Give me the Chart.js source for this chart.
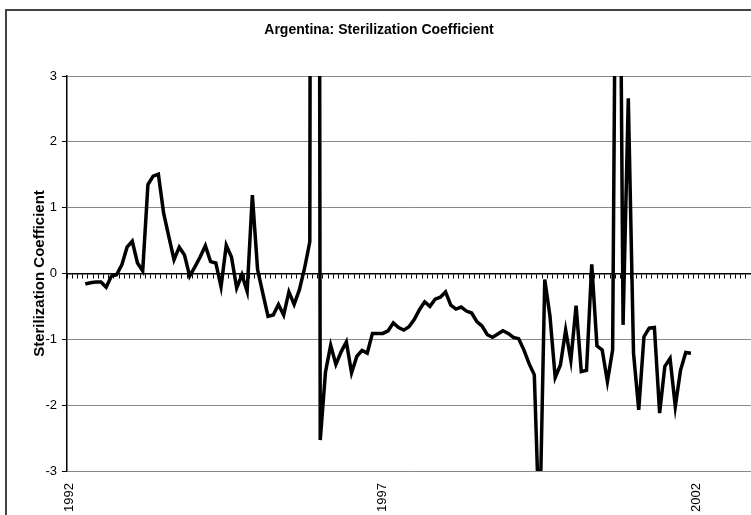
<!DOCTYPE html>
<html>
<head>
<meta charset="utf-8">
<script src="https://cdn.jsdelivr.net/npm/chart.js@4.4.1/dist/chart.umd.min.js"></script>
<style>
  body { margin: 0; background: #fff; overflow: hidden; }
  #frame {
    position: absolute; left: 5px; top: 9px;
    width: 746px; height: 506px;
    border-left: 2px solid #444; border-top: 2px solid #444;
    box-sizing: border-box;
  }
</style>
</head>
<body>
<div id="frame"><canvas id="chart" width="744" height="504"></canvas></div>
<script>
// axis categories: one per month
const years = [1992, 1993, 1994, 1995, 1996, 1997, 1998, 1999, 2000, 2001, 2002];
const monthNames = ['Jan', 'Feb', 'Mar', 'Apr', 'May', 'Jun', 'Jul', 'Aug', 'Sep', 'Oct', 'Nov', 'Dec'];
const yearLabels = ['1992', '1997', '2002'];
const lastMonth = 'Nov 2002';

// series starts Apr 1992
const firstMonth = 'Apr 1992';
const coefficient = [
    -0.16, -0.14, -0.13, -0.13, -0.21, -0.04, -0.02, 0.13, 0.40,          // 1992
    0.49, 0.16, 0.04, 1.35, 1.48, 1.51, 0.92, 0.56, 0.21, 0.40, 0.28, -0.04, // 1993
    0.10, 0.25, 0.42, 0.18, 0.16, -0.20, 0.43, 0.25, -0.22, -0.02, -0.27, 1.19, // 1994
    0.06, -0.30, -0.65, -0.63, -0.47, -0.63, -0.28, -0.47, -0.25, 0.08, 0.48, 50, // 1995
    -2.53, -1.50, -1.09, -1.38, -1.19, -1.04, -1.51, -1.26, -1.17, -1.21, -0.91, -0.91, // 1996
    -0.91, -0.87, -0.75, -0.82, -0.86, -0.81, -0.70, -0.55, -0.43, -0.50, -0.39, -0.36, // 1997
    -0.28, -0.48, -0.54, -0.51, -0.57, -0.60, -0.73, -0.80, -0.93, -0.97, -0.92, -0.87, // 1998
    -0.91, -0.97, -0.99, -1.16, -1.37, -1.54, -4.0, -0.09, -0.65, -1.58, -1.39, -0.86, // 1999
    -1.32, -0.49, -1.49, -1.47, 0.14, -1.10, -1.16, -1.64, -1.16, 10, -0.78, 2.66, // 2000
    -1.21, -2.07, -0.96, -0.83, -0.82, -2.12, -1.41, -1.29, -2.02, -1.47, -1.20, -1.21 // 2001
];

const allMonths = years.flatMap(y => monthNames.map(m => m + ' ' + y));
const labels = allMonths.slice(0, allMonths.indexOf(lastMonth) + 1);
const start = labels.indexOf(firstMonth);
const series = labels.map((l, i) => {
    const v = coefficient[i - start];
    return v === undefined ? null : v;
});

// no side padding for the category axes
function noPad(s) {
    s.paddingLeft = 0;
    s.paddingRight = 0;
}

const config = {
    type: 'line',
    data: {
        labels: labels,
        datasets: [{
            data: series,
            borderColor: '#000',
            borderWidth: 3.5,
            pointRadius: 0,
            tension: 0,
            clip: 0,
            spanGaps: false
        }]
    },
    options: {
        responsive: false,
        animation: false,
        plugins: {
            legend: { display: false },
            tooltip: { enabled: false },
            title: {
                display: true,
                text: 'Argentina: Sterilization Coefficient',
                color: '#000',
                font: { family: 'Liberation Sans, Arial', size: 14, weight: 'bold' },
                padding: { top: 11, bottom: 37.2 }
            }
        },
        scales: {
            x: {
                position: 'bottom',
                offset: true,
                grid: { display: false },
                border: { display: false },
                ticks: {
                    autoSkip: false,
                    maxRotation: 90,
                    minRotation: 90,
                    padding: 4,
                    color: '#000',
                    font: { family: 'Liberation Sans, Arial', size: 13 },
                    callback: function (val, i) {
                        const l = labels[i];
                        const y = l.slice(4);
                        return (l.startsWith('Jan') && yearLabels.includes(y)) ? y : '';
                    }
                },
                afterFit: s => { s.height = 44; noPad(s); }
            },
            // zero line with monthly tick marks
            x2: {
                type: 'category',
                labels: labels,
                position: { y: 0 },
                offset: true,
                grid: { drawOnChartArea: false, drawTicks: true, tickLength: 4, color: '#000', offset: true },
                border: { display: true, color: '#000', width: 1.5 },
                ticks: { display: false, autoSkip: false },
                afterFit: noPad
            },
            y: {
                min: -3,
                max: 3,
                ticks: {
                    stepSize: 1,
                    color: '#000',
                    padding: 5,
                    font: { family: 'Liberation Sans, Arial', size: 13 }
                },
                grid: { color: '#888', lineWidth: 1, tickLength: 5, tickColor: '#000' },
                border: { color: '#000', width: 1.5 },
                title: {
                    display: true,
                    text: 'Sterilization Coefficient',
                    color: '#000',
                    font: { family: 'Liberation Sans, Arial', size: 15, weight: 'bold' },
                    padding: { top: 24, bottom: 0 }
                },
                afterFit: s => { s.width = 60; }
            }
        },
        layout: { padding: 0 }
    }
};

const chart = new Chart(document.getElementById('chart'), config);
</script>
</body>
</html>
